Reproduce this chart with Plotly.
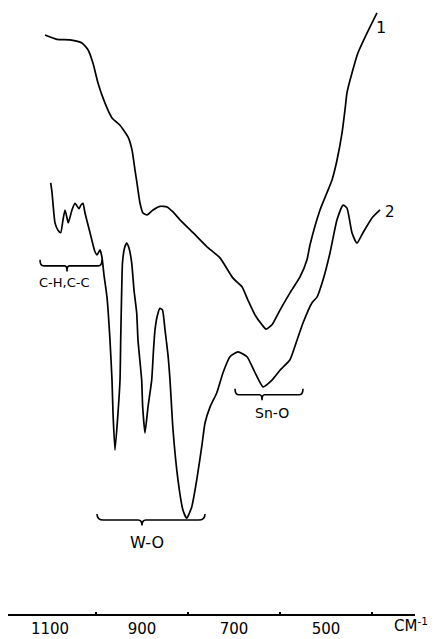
import plotly.graph_objects as go

# IR spectra (transmittance, arbitrary units)
wn_1 = [1110.9, 1084.8, 1056.5, 1030.4, 1017.4, 1006.5, 995.7, 980.4, 965.2, 947.8,
        930.4, 921.7, 915.2, 910.9, 904.3, 897.8, 889.1, 876.1, 860.9, 845.7,
        832.6, 817.4, 789.1, 758.7, 730.4, 702.2, 682.6, 669.6, 654.3, 639.1,
        630.4, 617.4, 600.0, 578.3, 556.5, 541.3, 534.8, 513.0, 486.9, 476.1,
        465.2, 458.7, 454.3, 443.5, 430.4, 410.9, 389.1]
t_1 = [94.3, 93.6, 93.5, 93.0, 91.9, 89.7, 86.5, 83.2, 80.8, 79.6,
       77.7, 75.6, 72.3, 70.2, 66.9, 65.3, 65.0, 65.8, 66.4, 66.3,
       65.5, 64.2, 62.1, 59.8, 58.0, 54.7, 53.3, 51.1, 48.7, 47.1,
       46.4, 47.1, 49.5, 52.3, 54.9, 57.7, 60.1, 65.8, 70.7, 73.9,
       78.3, 82.1, 84.9, 88.1, 91.4, 94.6, 97.9]

wn_2 = [1098.5, 1095.7, 1089.1, 1082.6, 1076.7, 1071.7, 1067.4, 1063.0, 1060.2, 1052.2,
        1045.7, 1037.0, 1032.6, 1028.3, 1023.9, 1013.0, 1002.2, 997.8, 991.3, 987.0,
        982.6, 976.1, 969.6, 965.2, 963.0, 958.7, 952.2, 947.8, 946.3, 944.6,
        942.4, 938.0, 933.3, 928.3, 922.4, 917.4, 911.5, 908.7, 900.7, 898.5,
        893.5, 887.0, 878.9, 875.0, 871.7, 866.3, 860.9, 855.4, 850.0, 843.5,
        839.1, 832.6, 821.7, 810.9, 802.8, 792.0, 781.1, 770.2, 763.0, 752.2,
        737.6, 723.9, 708.7, 691.3, 671.7, 654.3, 637.0, 617.4, 600.0, 578.3,
        563.0, 550.0, 530.4, 519.6, 506.5, 491.3, 476.1, 463.0, 454.3, 443.5,
        432.6, 419.6, 400.0, 382.6]
t_2 = [70.2, 68.7, 63.7, 62.5, 62.1, 64.2, 65.8, 64.5, 63.7, 65.8,
       66.9, 66.0, 66.6, 66.9, 65.3, 62.1, 59.0, 58.5, 59.3, 58.1,
       55.2, 51.6, 44.6, 38.1, 32.7, 26.7, 32.7, 38.1, 44.6, 51.1,
       57.2, 59.6, 60.4, 59.6, 57.2, 52.8, 49.0, 44.6, 38.1, 33.7,
       29.5, 33.7, 38.1, 43.0, 46.3, 48.7, 49.8, 49.5, 46.3, 42.2,
       38.1, 30.0, 21.8, 16.9, 15.6, 17.4, 21.8, 27.2, 31.1, 33.7,
       36.0, 39.3, 41.9, 42.7, 41.9, 39.3, 37.0, 38.1, 39.7, 41.4,
       44.6, 47.4, 50.7, 51.6, 54.4, 58.8, 64.2, 66.6, 66.1, 62.1,
       60.4, 62.1, 64.5, 65.8]

tick_vals = [1100, 900, 700, 500]
tick_text = ["1100", "900", "700", "500"]
minor_vals = [1000, 800, 600, 400]

# band assignments: (label, wn_left, wn_right, wn_cusp, brace_T, label_wn, label_T, font size)
bands = [
    ("C-H,C-C", 1121.7, 987.0, 1063.0, 56.7, 1067.4, 54.0, 13),
    ("W-O", 997.8, 763.0, 900.0, 15.3, 889.1, 11.6, 16),
    ("Sn-O", 697.8, 550.0, 639.0, 35.7, 617.4, 32.7, 14),
]

font_main = "DejaVu Sans"
line_style = dict(color="black", width=1.7, shape="spline", smoothing=0.5)

fig = go.Figure()
fig.add_trace(go.Scatter(x=wn_1, y=t_1, mode="lines", line=line_style,
                         showlegend=False, hoverinfo="skip"))
fig.add_trace(go.Scatter(x=wn_2, y=t_2, mode="lines", line=line_style,
                         showlegend=False, hoverinfo="skip"))


def brace_path(x1, x2, xc, y):
    hook = 1.0   # T units the ends curl up
    dip = 0.9    # T units the cusp points down
    dx = (x2 - x1) * 0.06
    return (f"M {x1},{y + hook} Q {x1},{y} {x1 + dx},{y} "
            f"L {xc - dx * 0.6},{y} Q {xc},{y} {xc},{y - dip} "
            f"Q {xc},{y} {xc + dx * 0.6},{y} "
            f"L {x2 - dx},{y} Q {x2},{y} {x2},{y + hook}")


for label, xa, xb, xc, yb, lx, ly, fs in bands:
    fig.add_shape(type="path", xref="x", yref="y", path=brace_path(xa, xb, xc, yb),
                  line=dict(color="black", width=1.6))
    fig.add_annotation(x=lx, y=ly, xref="x", yref="y", text=label, showarrow=False,
                       font=dict(family=font_main, size=fs, color="black"))

fig.add_annotation(x=380.4, y=95.6, xref="x", yref="y", text="1", showarrow=False,
                   font=dict(family=font_main, size=16, color="black"))
fig.add_annotation(x=360.9, y=65.5, xref="x", yref="y", text="2", showarrow=False,
                   font=dict(family=font_main, size=15, color="black"))
fig.add_annotation(x=0.944, y=-0.018, xref="paper", yref="paper", xanchor="left",
                   yanchor="middle", text="CM<sup>-1</sup>", showarrow=False,
                   font=dict(family=font_main, size=15, color="black"))

fig.update_layout(
    width=437, height=639,
    margin=dict(l=8, r=22, t=0, b=25),
    paper_bgcolor="white", plot_bgcolor="white",
    xaxis=dict(range=[1191.3, 306.5], showline=True, linecolor="black", linewidth=1.5,
               tickvals=tick_vals, ticktext=tick_text, ticks="", showgrid=False,
               zeroline=False, automargin=False,
               tickfont=dict(family=font_main, size=15, color="black"),
               minor=dict(tickvals=minor_vals, ticks="inside", ticklen=2,
                          tickcolor="black", tickwidth=1.5, showgrid=False)),
    yaxis=dict(range=[0, 100], visible=False),
)

fig.write_html("out.html", config={"displayModeBar": False},
               post_script="document.body.style.margin='0';document.body.style.overflow='hidden';")
